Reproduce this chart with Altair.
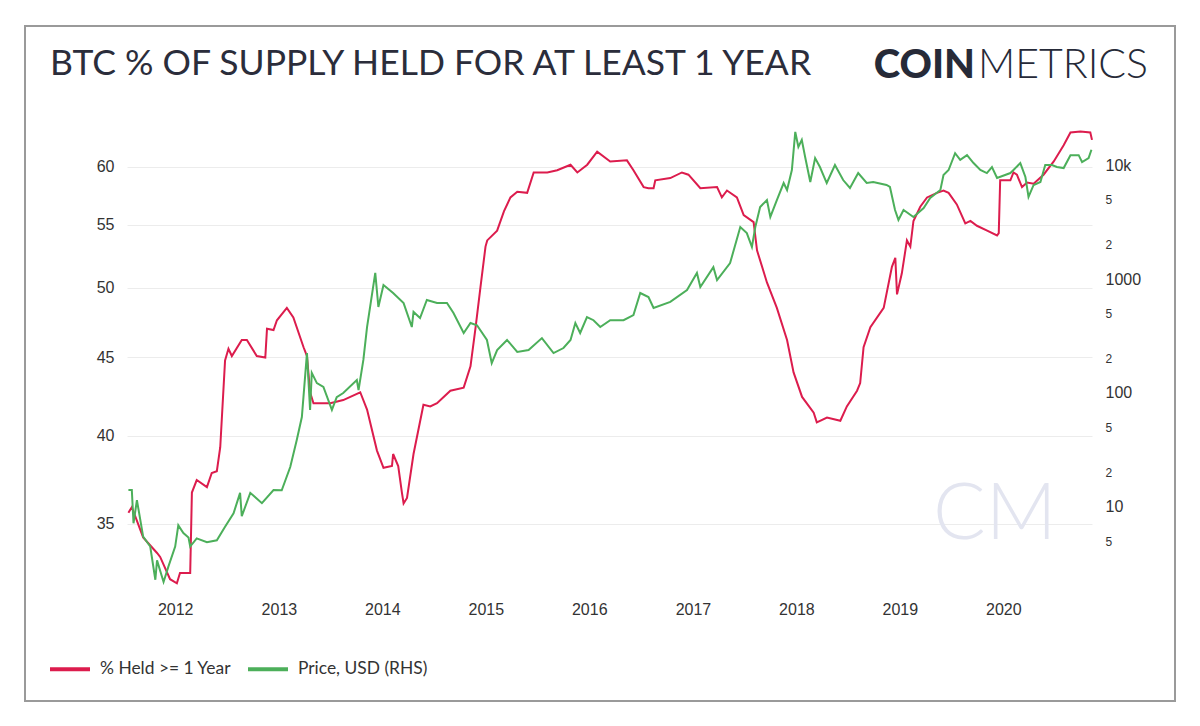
import altair as alt
import pandas as pd

TITLE = "BTC % OF SUPPLY HELD FOR AT LEAST 1 YEAR"
SERIES = ["% Held >= 1 Year", "Price, USD (RHS)"]
COLORS = ["#dc1c4d", "#4caf5a"]

held_dates = [
    "2011-07-20", "2011-08-01", "2011-09-10", "2011-10-29", "2011-11-09", "2011-12-14",
    "2012-01-07", "2012-01-18", "2012-02-23", "2012-02-29", "2012-03-17", "2012-04-22",
    "2012-05-09", "2012-05-27", "2012-06-08", "2012-06-25", "2012-07-07", "2012-07-19",
    "2012-08-23", "2012-09-10", "2012-10-15", "2012-11-14", "2012-11-20", "2012-12-13",
    "2012-12-25", "2013-01-29", "2013-02-21", "2013-03-29", "2013-04-10", "2013-04-21",
    "2013-05-03", "2013-07-01", "2013-08-16", "2013-10-15", "2013-11-08", "2013-12-13",
    "2014-01-05", "2014-02-04", "2014-02-08", "2014-02-26", "2014-03-11", "2014-03-17",
    "2014-03-29", "2014-04-21", "2014-05-26", "2014-06-19", "2014-07-13", "2014-08-29",
    "2014-10-15", "2014-11-08", "2014-11-26", "2014-12-13", "2014-12-31", "2015-01-06",
    "2015-02-10", "2015-03-06", "2015-03-29", "2015-04-22", "2015-05-27", "2015-06-19",
    "2015-08-06", "2015-09-10", "2015-10-27", "2015-11-20", "2015-12-25", "2016-01-29",
    "2016-03-15", "2016-05-13", "2016-06-05", "2016-07-11", "2016-07-28", "2016-08-15",
    "2016-08-21", "2016-10-13", "2016-11-23", "2016-12-16", "2017-01-27", "2017-03-27",
    "2017-04-13", "2017-05-01", "2017-06-05", "2017-06-29", "2017-08-03", "2017-08-15",
    "2017-09-19", "2017-10-24", "2017-11-29", "2017-12-22", "2018-01-21", "2018-03-03",
    "2018-03-14", "2018-04-19", "2018-06-05", "2018-06-28", "2018-08-03", "2018-08-14",
    "2018-08-26", "2018-09-19", "2018-11-05", "2018-12-04", "2018-12-16", "2018-12-22",
    "2019-01-08", "2019-01-26", "2019-02-07", "2019-02-18", "2019-03-14", "2019-04-07",
    "2019-05-12", "2019-06-04", "2019-06-22", "2019-07-21", "2019-08-20", "2019-09-07",
    "2019-09-30", "2019-11-05", "2019-12-10", "2019-12-16", "2019-12-21", "2020-01-26",
    "2020-02-06", "2020-02-18", "2020-03-07", "2020-03-25", "2020-04-17", "2020-05-22",
    "2020-06-27", "2020-08-01", "2020-08-25", "2020-09-29", "2020-11-03", "2020-11-09",
]
held_values = [
    35.6, 35.9, 34.3, 33.5, 33.3, 32.2,
    32.0, 32.5, 32.5, 36.7, 37.4, 37.0,
    37.8, 37.9, 39.3, 44.8, 45.6, 45.1,
    46.2, 46.2, 45.1, 45.0, 47.0, 46.9,
    47.6, 48.5, 47.8, 45.7, 45.1, 42.7,
    42.0, 42.0, 42.2, 42.7, 41.6, 39.1,
    38.1, 38.2, 38.9, 38.2, 36.7, 36.1,
    36.4, 38.9, 41.9, 41.8, 42.0, 42.8,
    43.0, 44.4, 47.1, 50.0, 53.2, 53.7,
    54.5, 56.1, 57.3, 57.8, 57.7, 59.5,
    59.5, 59.7, 60.2, 59.5, 60.2, 61.4,
    60.5, 60.6, 59.7, 58.2, 58.1, 58.1,
    58.8, 59.0, 59.5, 59.3, 58.1, 58.2,
    57.3, 57.9, 57.3, 55.8, 55.2, 52.9,
    50.4, 48.5, 46.2, 44.0, 42.4, 41.4,
    40.8, 41.1, 40.9, 41.8, 42.8, 43.3,
    45.7, 47.1, 48.5, 51.6, 52.3, 49.5,
    51.1, 53.7, 53.2, 55.3, 56.5, 57.3,
    57.7, 57.9, 57.7, 56.7, 55.1, 55.3,
    54.9, 54.5, 54.1, 54.3, 58.8, 58.8,
    59.5, 59.3, 58.2, 58.6, 58.5, 59.3,
    60.5, 62.0, 63.2, 63.3, 63.2, 62.5,
]

price_dates = [
    "2011-07-20", "2011-08-01", "2011-08-07", "2011-08-19", "2011-09-10", "2011-10-05",
    "2011-10-23", "2011-10-29", "2011-11-21", "2011-12-08", "2012-01-01", "2012-01-12",
    "2012-01-30", "2012-02-17", "2012-02-23", "2012-03-17", "2012-04-22", "2012-05-27",
    "2012-06-25", "2012-07-25", "2012-08-17", "2012-08-23", "2012-09-22", "2012-11-02",
    "2012-12-13", "2013-01-11", "2013-02-10", "2013-03-05", "2013-03-23", "2013-04-10",
    "2013-04-21", "2013-04-27", "2013-05-15", "2013-06-07", "2013-07-07", "2013-07-24",
    "2013-08-16", "2013-10-03", "2013-10-09", "2013-10-26", "2013-11-08", "2013-12-07",
    "2013-12-18", "2014-01-05", "2014-02-08", "2014-03-17", "2014-04-15", "2014-04-21",
    "2014-05-14", "2014-06-07", "2014-07-13", "2014-08-17", "2014-09-09", "2014-10-15",
    "2014-11-08", "2014-12-01", "2015-01-05", "2015-01-22", "2015-02-10", "2015-03-17",
    "2015-04-22", "2015-06-01", "2015-07-18", "2015-08-28", "2015-10-02", "2015-10-27",
    "2015-11-13", "2015-11-30", "2015-12-24", "2016-01-16", "2016-02-09", "2016-03-15",
    "2016-05-01", "2016-06-05", "2016-06-29", "2016-07-28", "2016-08-15", "2016-10-13",
    "2016-12-11", "2017-01-15", "2017-01-27", "2017-03-14", "2017-03-27", "2017-05-12",
    "2017-06-17", "2017-07-10", "2017-07-28", "2017-08-09", "2017-08-26", "2017-09-19",
    "2017-10-01", "2017-10-24", "2017-11-17", "2017-11-29", "2017-12-16", "2017-12-28",
    "2018-01-08", "2018-01-20", "2018-02-01", "2018-02-19", "2018-03-08", "2018-03-25",
    "2018-04-18", "2018-05-17", "2018-06-15", "2018-07-09", "2018-08-07", "2018-09-06",
    "2018-09-29", "2018-11-15", "2018-11-27", "2018-12-15", "2018-12-27", "2019-01-14",
    "2019-02-18", "2019-03-26", "2019-04-18", "2019-05-24", "2019-06-04", "2019-06-22",
    "2019-07-15", "2019-08-02", "2019-08-26", "2019-09-18", "2019-10-12", "2019-11-04",
    "2019-11-22", "2019-12-10", "2020-01-26", "2020-02-06", "2020-03-01", "2020-03-19",
    "2020-03-30", "2020-04-17", "2020-05-11", "2020-05-28", "2020-06-21", "2020-07-08",
    "2020-08-01", "2020-08-25", "2020-09-23", "2020-10-05", "2020-10-28", "2020-11-07",
]
price_values = [
    14.1, 14.1, 7.2, 11.5, 5.5, 4.5,
    2.3, 3.4, 2.2, 3.0, 4.5, 6.9,
    5.9, 5.4, 4.5, 5.3, 4.9, 5.1,
    6.7, 8.8, 13.3, 8.3, 13.3, 10.8,
    14.1, 14.0, 22.4, 38.7, 61.6, 224,
    71, 150, 122, 113, 71, 92,
    100, 130, 106, 195, 379, 1130,
    568, 886, 754, 615, 379, 514,
    455, 655, 615, 615, 503, 336,
    411, 393, 292, 183, 238, 292,
    229, 238, 303, 224, 248, 292,
    411, 336, 464, 435, 379, 435,
    435, 483, 754, 695, 557, 630,
    801, 1130, 851, 1270, 980, 1380,
    2860, 2530, 1910, 2860, 4280, 4930,
    3500, 4930, 6950, 6040, 9040, 19500,
    14400, 16600, 11700, 7100, 11500, 9600,
    6950, 10000, 7380, 6290, 8500, 6950,
    7100, 6680, 6420, 4030, 3300, 4030,
    3500, 4190, 5140, 6040, 8170, 9040,
    12700, 11100, 12200, 10400, 9040, 8500,
    9600, 7690, 8500, 9040, 10400, 7850,
    5240, 6680, 7100, 10000, 10000, 9600,
    9400, 12200, 12200, 10600, 11500, 13600,
]

year_ticks = [2012, 2013, 2014, 2015, 2016, 2017, 2018, 2019, 2020]
held_ticks = [35, 40, 45, 50, 55, 60]
price_ticks = [5, 10, 20, 50, 100, 200, 500, 1000, 2000, 5000, 10000]

held_df = pd.DataFrame({"date": held_dates, "value": held_values, "series": SERIES[0]})
price_df = pd.DataFrame({"date": price_dates, "value": price_values, "series": SERIES[1]})
one = pd.DataFrame({"k": [0]})

AXIS_FONT = "Liberation Sans"

x_enc = alt.X(
    "date:T",
    title=None,
    scale=alt.Scale(
        type="utc",
        domain=[
            alt.DateTime(year=2011, month=7, date=15, utc=True),
            alt.DateTime(year=2020, month=11, date=9, utc=True),
        ],
    ),
    axis=alt.Axis(
        values=[alt.DateTime(year=y, month=1, date=1, utc=True) for y in year_ticks],
        labelExpr="utcFormat(datum.value, '%Y')",
        grid=False, domain=False, ticks=False,
        labelFont=AXIS_FONT, labelFontSize=16, labelColor="#333333",
        labelPadding=11,
    ),
)

color_enc = alt.Color(
    "series:N",
    scale=alt.Scale(domain=SERIES, range=COLORS),
    legend=alt.Legend(
        title=None, orient="none", legendX=-79, legendY=522,
        direction="horizontal", symbolType="stroke", symbolStrokeWidth=4,
        symbolSize=1600, labelFont="Lato", labelFontSize=17.4,
        labelColor="#333333", labelOffset=8, columnPadding=8,
    ),
)

held_line = alt.Chart(held_df).mark_line(strokeWidth=2).encode(
    x=x_enc,
    y=alt.Y(
        "value:Q", title=None,
        scale=alt.Scale(type="log", domain=[31.68, 63.92], nice=False, zero=False),
        axis=alt.Axis(
            orient="left", values=held_ticks, grid=True, gridColor="#ececec",
            domain=False, ticks=False, labelFont=AXIS_FONT, labelFontSize=16,
            labelColor="#333333", labelPadding=13,
        ),
    ),
    color=color_enc,
)

major = "datum.value == 10 || datum.value == 100 || datum.value == 1000 || datum.value == 10000"
price_line = alt.Chart(price_df).mark_line(strokeWidth=2).encode(
    x=x_enc,
    y=alt.Y(
        "value:Q", title=None,
        scale=alt.Scale(type="log", domain=[1.87, 22436], nice=False, zero=False),
        axis=alt.Axis(
            orient="right", values=price_ticks, grid=False, domain=False, ticks=False,
            labelExpr="datum.value == 10000 ? '10k' : ((" + major + ") ? '' + datum.value : substring('' + datum.value, 0, 1))",
            labelFont=AXIS_FONT,
            labelFontSize={"condition": {"test": major, "value": 16}, "value": 12},
            labelColor="#333333", labelPadding=13,
        ),
    ),
    color=color_enc,
)

frame = alt.Chart(one).mark_rect(fill=None, stroke="#9a9a9a", strokeWidth=2).encode(
    x=alt.value(-102), x2=alt.value(1048), y=alt.value(-99), y2=alt.value(576)
)
watermark = alt.Chart(one).mark_text(
    text="CM", font="Lato", fontWeight=300, fontSize=78, color="#e3e5f0",
    align="left", baseline="alphabetic",
).encode(x=alt.value(806), y=alt.value(414))
title = alt.Chart(one).mark_text(
    text=TITLE, font="Lato", fontSize=35.5, color="#2b2d3b",
    align="left", baseline="alphabetic",
).encode(x=alt.value(-77), y=alt.value(-50))
logo_a = alt.Chart(one).mark_text(
    text="COIN", font="Lato", fontWeight=900, fontSize=40, color="#262a38",
    align="right", baseline="alphabetic",
).encode(x=alt.value(848), y=alt.value(-47))
logo_b = alt.Chart(one).mark_text(
    text="METRICS", font="Lato", fontWeight=300, fontSize=41, color="#262a38",
    align="left", baseline="alphabetic",
).encode(x=alt.value(851), y=alt.value(-47))

chart = alt.layer(
    frame, watermark, held_line, price_line, title, logo_a, logo_b
).resolve_scale(
    y="independent"
).properties(
    width=965, height=465,
    autosize=alt.AutoSizeParams(type="none"),
    padding={"left": 119, "top": 117, "right": 92, "bottom": 120},
    background="white",
).configure_view(stroke=None)

chart.save("out.html", embed_options={"renderer": "svg", "actions": False})
